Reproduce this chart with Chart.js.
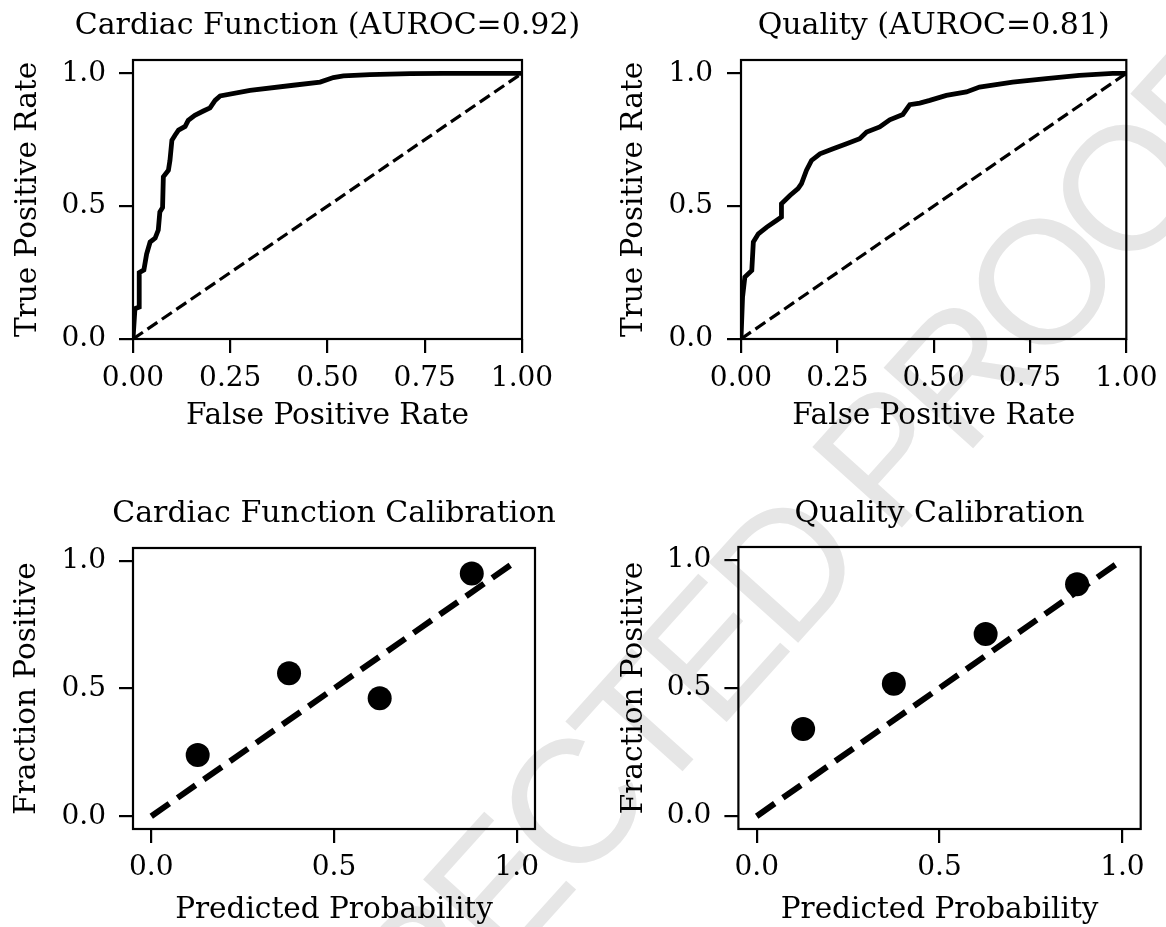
<!DOCTYPE html>
<html>
<head>
<meta charset="utf-8">
<script src="https://cdn.jsdelivr.net/npm/chart.js@4.4.1/dist/chart.umd.min.js"></script>
<style>
  body { margin: 0; background: #fff; width: 1166px; height: 927px; overflow: hidden; position: relative; }
  .panel { position: absolute; }
  #wm {
    position: absolute; left: 685px; top: 678px;
    transform: translate(-50%, -50%) rotate(-48deg);
    font: 175px/1 "Liberation Sans", Arial, sans-serif;
    letter-spacing: -10px;
    color: #e6e6e6; white-space: nowrap;
  }
</style>
</head>
<body>
<div id="wm">CORRECTED PROOF</div>
<div class="panel" style="left:0;top:0"><canvas id="rocCardiac" width="583" height="465"></canvas></div>
<div class="panel" style="left:583px;top:0"><canvas id="rocQuality" width="583" height="465"></canvas></div>
<div class="panel" style="left:0;top:465px"><canvas id="calCardiac" width="583" height="462"></canvas></div>
<div class="panel" style="left:583px;top:465px"><canvas id="calQuality" width="583" height="462"></canvas></div>
<script>
// ── dados ──
const rocTicks = [0, 0.25, 0.5, 0.75, 1];
const rateTicks = [0, 0.5, 1];
const probTicks = [0, 0.5, 1];
const chanceLine = [0, 1];

const cardiacFpr = [0, 0.005, 0.016, 0.016, 0.028, 0.035, 0.044, 0.057, 0.065, 0.069, 0.076, 0.078, 0.091, 0.095, 0.1, 0.108, 0.117, 0.134, 0.142, 0.159, 0.181, 0.198, 0.211, 0.224, 0.301, 0.412, 0.481, 0.515, 0.541, 0.609, 0.712, 0.798, 1];
const cardiacTpr = [0, 0.114, 0.12, 0.25, 0.26, 0.32, 0.365, 0.38, 0.41, 0.478, 0.495, 0.61, 0.635, 0.672, 0.748, 0.767, 0.786, 0.8, 0.823, 0.842, 0.858, 0.87, 0.898, 0.915, 0.936, 0.955, 0.967, 0.984, 0.99, 0.995, 0.999, 1, 1];

const qualityFpr = [0, 0.004, 0.01, 0.028, 0.032, 0.045, 0.067, 0.092, 0.105, 0.105, 0.127, 0.148, 0.157, 0.17, 0.183, 0.205, 0.239, 0.274, 0.308, 0.326, 0.36, 0.386, 0.42, 0.438, 0.464, 0.49, 0.533, 0.585, 0.619, 0.705, 0.792, 0.878, 0.965, 1];
const qualityTpr = [0, 0.157, 0.233, 0.258, 0.365, 0.396, 0.421, 0.446, 0.459, 0.509, 0.54, 0.566, 0.585, 0.635, 0.672, 0.697, 0.716, 0.735, 0.754, 0.779, 0.798, 0.825, 0.845, 0.882, 0.888, 0.898, 0.917, 0.93, 0.948, 0.967, 0.98, 0.992, 1, 1];

const cardiacPred = [0.127, 0.377, 0.625, 0.877];
const cardiacFrac = [0.24, 0.56, 0.462, 0.95];
const qualityPred = [0.127, 0.375, 0.626, 0.876];
const qualityFrac = [0.34, 0.517, 0.711, 0.905];

// ── estilo comum ──
Chart.defaults.font.family = 'DejaVu Serif';
Chart.defaults.color = '#000';

const TICK_FONT = { family: 'DejaVu Serif', size: 28 };
const LABEL_FONT = { family: 'DejaVu Serif', size: 29.5, lineHeight: 1 };

// moldura dos eixos (spines do matplotlib)
const frame = {
    id: 'frame',
    afterDatasetsDraw(chart) {
        const { ctx, chartArea: a } = chart;
        ctx.save();
        ctx.strokeStyle = '#000';
        ctx.lineWidth = 2.2;
        ctx.strokeRect(a.left, a.top, a.width, a.height);
        ctx.restore();
    }
};

// título centrado sobre a área do gráfico, como no matplotlib
const axTitle = {
    id: 'axTitle',
    afterDraw(chart, args, opts) {
        const { ctx, chartArea: a } = chart;
        ctx.save();
        ctx.font = '30px "DejaVu Serif"';
        ctx.fillStyle = '#000';
        ctx.textAlign = 'center';
        ctx.textBaseline = 'middle';
        ctx.fillText(opts.text, (a.left + a.right) / 2, opts.y);
        ctx.restore();
    }
};

const pts = (xs, ys) => xs.map((x, i) => ({ x, y: ys[i] }));

function axis(g) {
    return {
        type: 'linear', min: g.min, max: g.max,
        afterBuildTicks: s => { s.ticks = g.ticks.map(v => ({ value: v })); },
        afterFit: s => { if (g.width != null) s.width = g.width; if (g.height != null) s.height = g.height; },
        ticks: { font: TICK_FONT, color: '#000', padding: g.tickPad, maxRotation: 0, autoSkip: false, callback: g.fmt },
        grid: { drawOnChartArea: false, color: '#000', lineWidth: 2.2, tickLength: 14 },
        border: { display: false },
        title: { display: true, text: g.title, color: '#000', font: LABEL_FONT, padding: g.titlePad }
    };
}

function makeChart(id, title, datasets, g) {
    return new Chart(document.getElementById(id), {
        type: 'scatter',
        data: { datasets },
        options: {
            responsive: false, animation: false, events: [],
            layout: { padding: { left: 0, top: g.top, bottom: 0, right: g.right }, autoPadding: false },
            plugins: {
                legend: { display: false }, tooltip: { enabled: false },
                axTitle: { text: title, y: g.titleY }
            },
            scales: { x: axis(g.x), y: axis(g.y) }
        },
        plugins: [frame, axTitle]
    });
}

// ── ROC ──
function rocSets(fpr, tpr) {
    return [
        { data: pts(fpr, tpr), showLine: true, borderColor: '#000', borderWidth: 4.8, pointRadius: 0, tension: 0 },
        { data: pts(chanceLine, chanceLine), showLine: true, borderColor: '#000', borderWidth: 3.2, borderDash: [12, 5.5], pointRadius: 0 }
    ];
}
const fmt2 = v => v.toFixed(2);
const fmt1 = v => v.toFixed(1);

makeChart('rocCardiac', 'Cardiac Function (AUROC=0.92)', rocSets(cardiacFpr, cardiacTpr), {
    right: 61, top: 60, titleY: 26,
    x: { min: 0, max: 1, ticks: rocTicks, fmt: fmt2, height: 126, tickPad: 8.5, title: 'False Positive Rate', titlePad: { top: 0, bottom: 33.5 } },
    y: { min: 0, max: 1.05, ticks: rateTicks, fmt: fmt1, width: 133, tickPad: 13, title: 'True Positive Rate', titlePad: { top: 13.25, bottom: 0 } }
});
makeChart('rocQuality', 'Quality (AUROC=0.81)', rocSets(qualityFpr, qualityTpr), {
    right: 39, top: 60, titleY: 26,
    x: { min: 0, max: 1, ticks: rocTicks, fmt: fmt2, height: 126, tickPad: 8.5, title: 'False Positive Rate', titlePad: { top: 0, bottom: 33.5 } },
    y: { min: 0, max: 1.05, ticks: rateTicks, fmt: fmt1, width: 158, tickPad: 14, title: 'True Positive Rate', titlePad: { top: 36.25, bottom: 0 } }
});

// ── Calibração ──
function calSets(pred, frac) {
    return [
        { data: pts(chanceLine, chanceLine), showLine: true, borderColor: '#000', borderWidth: 6, borderDash: [22, 10], pointRadius: 0 },
        { data: pts(pred, frac), showLine: false, pointRadius: 12, pointBackgroundColor: '#000', pointBorderWidth: 0 }
    ];
}

makeChart('calCardiac', 'Cardiac Function Calibration', calSets(cardiacPred, cardiacFrac), {
    right: 48, top: 83, titleY: 49,
    x: { min: -0.05, max: 1.05, ticks: probTicks, fmt: fmt1, height: 98, tickPad: 8, title: 'Predicted Probability', titlePad: { top: 0, bottom: 1.5 } },
    y: { min: -0.05, max: 1.05, ticks: probTicks, fmt: fmt1, width: 133, tickPad: 13, title: 'Fraction Positive', titlePad: { top: 12.25, bottom: 0 } }
});
makeChart('calQuality', 'Quality Calibration', calSets(qualityPred, qualityFrac), {
    right: 25.3, top: 82, titleY: 49,
    x: { min: -0.05, max: 1.05, ticks: probTicks, fmt: fmt1, height: 98, tickPad: 8, title: 'Predicted Probability', titlePad: { top: 0, bottom: 1.5 } },
    y: { min: -0.05, max: 1.05, ticks: probTicks, fmt: fmt1, width: 155.4, tickPad: 13, title: 'Fraction Positive', titlePad: { top: 36.25, bottom: 0 } }
});
</script>
</body>
</html>
